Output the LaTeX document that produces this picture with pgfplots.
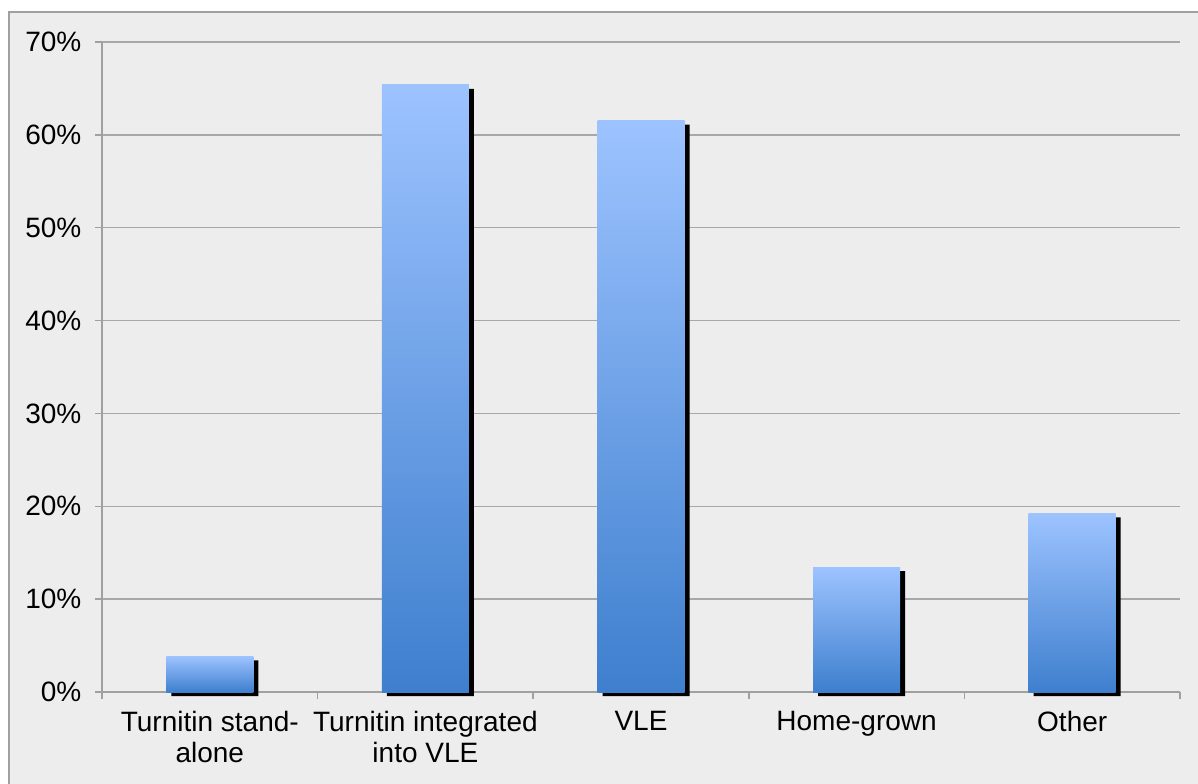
\documentclass[border=0pt]{standalone}
\usepackage{pgfplots}
\pgfplotsset{compat=1.18}
\usepackage{fontspec}
\setmainfont{Liberation Sans}
\definecolor{bg}{HTML}{EDEDED}
\definecolor{framec}{HTML}{A0A0A0}
\definecolor{gridc}{HTML}{A8A8A8}
\definecolor{bartop}{HTML}{9DC3FF}
\definecolor{barbot}{HTML}{3E7FCE}
\begin{document}
\begin{tikzpicture}
\path[use as bounding box] (-51pt,-45.5pt) rectangle (548pt,346pt);
\path[fill=bg, draw=framec, line width=0.75pt] (-46.5pt,-60pt) rectangle (560pt,340pt);
\begin{axis}[
  at={(0,0)}, anchor=south west,
  scale only axis, width=539pt, height=325pt,
  xmin=-0.5, xmax=4.5, ymin=0, ymax=70,
  clip=false,
  ytick={0,10,...,70},
  yticklabels={0\%,10\%,20\%,30\%,40\%,50\%,60\%,70\%},
  ymajorgrids, grid style={gridc, line width=0.75pt},
  axis lines*=left, axis line style={framec, line width=0.75pt},
  tick align=outside, major tick length=3.5pt,
  tick style={framec, line width=0.75pt},
  xtick={-0.5,0.5,...,4.5}, xticklabels={},
  extra x ticks={0,1,2,3,4},
  extra x tick labels={{Turnitin stand-\\alone},{Turnitin integrated\\into VLE},VLE,Home-grown,Other},
  extra x tick style={major tick length=0pt, grid=none, tick style={draw=none}},
  ticklabel style={font=\fontsize{14}{15.5}\selectfont, text=black},
  x tick label style={align=center, yshift=-6pt},
  y tick label style={xshift=-3.3pt},
  /pgf/number format/assume math mode=true,
  ybar, bar width=43.5pt,
  bars/.style={draw=none, bar shift=0pt, top color=bartop, bottom color=barbot},
]
% shadow series
\addplot[fill=black, draw=none, bar shift=2.5pt, transform canvas={yshift=-2pt}]
  coordinates {(0,3.85) (1,65.38) (2,61.54) (3,13.46) (4,19.23)};
% bars (one plot per bar so each gets its own gradient)
\addplot[bars] coordinates {(0,3.85)};
\addplot[bars] coordinates {(1,65.38)};
\addplot[bars] coordinates {(2,61.54)};
\addplot[bars] coordinates {(3,13.46)};
\addplot[bars] coordinates {(4,19.23)};
\end{axis}
\end{tikzpicture}
\end{document}
